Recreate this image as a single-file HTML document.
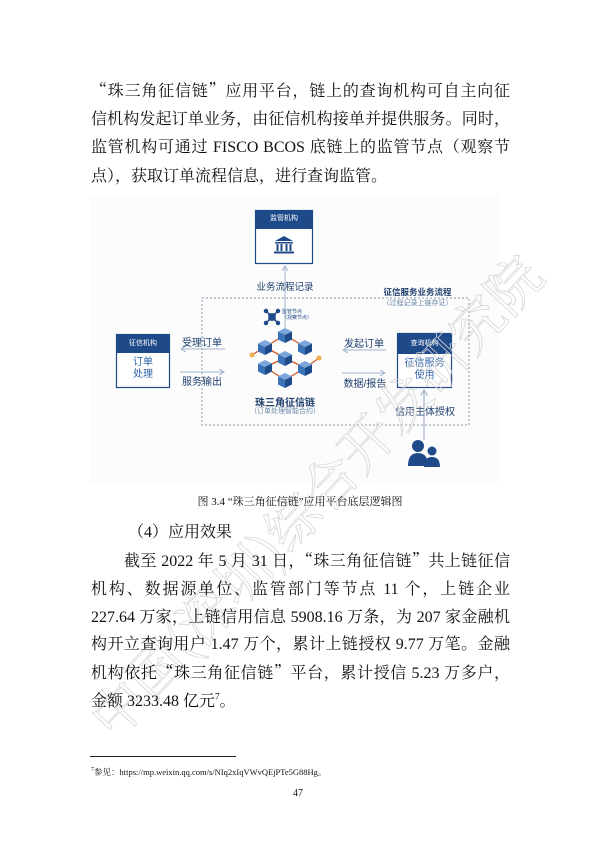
<!DOCTYPE html>
<html><head><meta charset="utf-8">
<style>
html,body{margin:0;padding:0;background:#fff;}
body{width:600px;height:848px;position:relative;overflow:hidden;font-family:"Liberation Serif","Noto Serif CJK SC","Noto Sans CJK SC",serif;color:#111;}
.l{position:absolute;left:91px;width:419px;font-size:16px;line-height:20px;text-align:justify;text-align-last:justify;white-space:nowrap;}
.q{font-family:"Noto Serif CJK SC",serif;line-height:0;}
sup{line-height:0;vertical-align:super;}
.d{position:absolute;font-family:"Liberation Sans","Noto Sans CJK SC",sans-serif;white-space:nowrap;}
.wm{position:absolute;font-family:"Noto Serif CJK SC",serif;font-size:54px;color:transparent;-webkit-text-stroke:0.8px #d6d6d6;white-space:nowrap;transform-origin:0 0;}
</style></head><body>

<div class="l" style="top:82px;"><span class="q">“</span>珠三角征信链<span class="q">”</span>应用平台，链上的查询机构可自主向征</div>
<div class="l" style="top:110px;">信机构发起订单业务，由征信机构接单并提供服务。同时，</div>
<div class="l" style="top:138px;">监管机构可通过 FISCO BCOS 底链上的监管节点（观察节</div>
<div class="l" style="top:167px;width:auto;text-align-last:auto;">点），获取订单流程信息，进行查询监管。</div>

<div style="position:absolute;left:90px;top:195px;width:410px;height:288px;background:#fcfcfc;"></div>

<svg style="position:absolute;left:0;top:0" width="600" height="848" viewBox="0 0 600 848">
 <defs>
  <marker id="ah" markerWidth="6" markerHeight="6" refX="5" refY="3" orient="auto"><path d="M0,0 L5,3 L0,6" fill="none" stroke="#9fb3cc" stroke-width="1"/></marker>
  <g id="cube">
   <polygon points="0,-7 7,-3.5 0,0 -7,-3.5" fill="#7aa6dc"/>
   <polygon points="-7,-3.5 0,0 0,8 -7,4.5" fill="#3a72b8"/>
   <polygon points="7,-3.5 0,0 0,8 7,4.5" fill="#1d4b8a"/>
  </g>
 </defs>
 <rect x="202" y="298" width="267" height="127" fill="none" stroke="#8a9bb0" stroke-width="1" stroke-dasharray="2,2"/>
 <rect x="255.5" y="210.5" width="57" height="53" fill="#fff" stroke="#1f4a8a" stroke-width="1.2"/>
 <rect x="255" y="210" width="58" height="19" fill="#1f4a8a"/>
 <g fill="#1f4a8a">
  <polygon points="284,236 275,241 293,241"/>
  <rect x="275" y="242" width="18" height="1.5"/>
  <rect x="276.5" y="244" width="2" height="7"/><rect x="280.5" y="244" width="2" height="7"/><rect x="285.5" y="244" width="2" height="7"/><rect x="289.5" y="244" width="2" height="7"/>
  <rect x="274" y="251.5" width="20" height="2"/>
 </g>
 <line x1="285" y1="330" x2="285" y2="266" stroke="#9fb3cc" stroke-width="1" marker-end="url(#ah)"/>
 <line x1="225" y1="349" x2="181" y2="349" stroke="#9fb3cc" stroke-width="1" marker-end="url(#ah)"/>
 <line x1="180" y1="372" x2="224" y2="372" stroke="#9fb3cc" stroke-width="1" marker-end="url(#ah)"/>
 <line x1="386" y1="350" x2="343" y2="350" stroke="#9fb3cc" stroke-width="1" marker-end="url(#ah)"/>
 <line x1="342" y1="373" x2="385" y2="373" stroke="#9fb3cc" stroke-width="1" marker-end="url(#ah)"/>
 <line x1="424" y1="440" x2="424" y2="390" stroke="#9fb3cc" stroke-width="1.2" marker-end="url(#ah)"/>
 <rect x="116.5" y="334.5" width="53" height="53" fill="#fff" stroke="#1f4a8a" stroke-width="1.2"/>
 <rect x="116" y="334" width="54" height="19" fill="#1f4a8a"/>
 <rect x="397.5" y="333.5" width="54" height="54" fill="#fff" stroke="#1f4a8a" stroke-width="1.2"/>
 <rect x="397" y="333" width="55" height="21" fill="#1f4a8a"/>
 <g stroke="#1f4a8a" stroke-width="1.5" fill="#1f4a8a">
  <line x1="266" y1="311" x2="278" y2="323"/><line x1="278" y1="311" x2="266" y2="323"/>
  <circle cx="266" cy="311" r="1.5"/><circle cx="278" cy="311" r="1.5"/><circle cx="266" cy="323" r="1.5"/><circle cx="278" cy="323" r="1.5"/>
  <rect x="269" y="314" width="6" height="6"/>
 </g>
 <g stroke="#d2572a" stroke-width="1.3">
  <line x1="252" y1="355" x2="265" y2="347"/>
  <line x1="265" y1="347" x2="285" y2="335"/>
  <line x1="285" y1="335" x2="305" y2="347"/>
  <line x1="265" y1="347" x2="285" y2="358"/>
  <line x1="285" y1="358" x2="305" y2="368"/>
  <line x1="265" y1="367" x2="285" y2="380"/>
  <line x1="285" y1="380" x2="305" y2="368"/>
  <line x1="305" y1="368" x2="319" y2="358"/>
  <line x1="265" y1="367" x2="285" y2="358"/>
 </g>
 <circle cx="252" cy="355" r="2.5" fill="#f0b050"/>
 <circle cx="319" cy="358" r="2.5" fill="#f0b050"/>
 <use href="#cube" x="285" y="335"/>
 <use href="#cube" x="265" y="347"/>
 <use href="#cube" x="305" y="347"/>
 <use href="#cube" x="285" y="358"/>
 <use href="#cube" x="265" y="367"/>
 <use href="#cube" x="305" y="368"/>
 <use href="#cube" x="285" y="380"/>
 <g fill="#1f4a8a">
  <circle cx="418" cy="446" r="6"/>
  <path d="M408,466 Q408,453 418,453 Q428,453 428,466 Z"/>
  <circle cx="432" cy="451" r="4.5"/>
  <path d="M424,467 Q424,457 432,457 Q440,457 440,467 Z"/>
 </g>
</svg>

<div class="d" style="left:255px;top:213px;width:58px;text-align:center;font-size:7px;color:#fff;">监管机构</div>
<div class="d" style="left:245px;top:279px;width:80px;text-align:center;font-size:9.5px;color:#1f3f6e;">业务流程记录</div>
<div class="d" style="left:370px;top:286px;width:95px;text-align:center;font-size:8.5px;color:#1f3f6e;font-weight:bold;">征信服务业务流程</div>
<div class="d" style="left:370px;top:298px;width:95px;text-align:center;font-size:7px;color:#6a85aa;">（过程记录上链存证）</div>
<div class="d" style="left:282px;top:309px;font-size:5px;color:#1f4a8a;line-height:6px;">监管节点<br>（观察节点）</div>
<div class="d" style="left:116px;top:338px;width:54px;text-align:center;font-size:7px;color:#fff;">征信机构</div>
<div class="d" style="left:116px;top:357px;width:54px;text-align:center;font-size:10px;line-height:12px;color:#2d63a8;">订单<br>处理</div>
<div class="d" style="left:397px;top:338px;width:55px;text-align:center;font-size:7px;color:#fff;">查询机构</div>
<div class="d" style="left:397px;top:358px;width:55px;text-align:center;font-size:10px;line-height:12px;color:#2d63a8;">征信服务<br>使用</div>
<div class="d" style="left:172px;top:334px;width:60px;text-align:center;font-size:10px;color:#1f3f6e;">受理订单</div>
<div class="d" style="left:172px;top:373px;width:60px;text-align:center;font-size:10px;color:#1f3f6e;">服务输出</div>
<div class="d" style="left:334px;top:335px;width:60px;text-align:center;font-size:10px;color:#1f3f6e;">发起订单</div>
<div class="d" style="left:334px;top:375px;width:62px;text-align:center;font-size:10px;color:#1f3f6e;">数据/报告</div>
<div class="d" style="left:385px;top:403px;width:80px;text-align:center;font-size:10px;color:#1f3f6e;">信用主体授权</div>
<div class="d" style="left:240px;top:394px;width:90px;text-align:center;font-size:10px;font-weight:bold;color:#1f3f6e;">珠三角征信链</div>
<div class="d" style="left:235px;top:406px;width:100px;text-align:center;font-size:7px;color:#6a85aa;">（订单处理智能合约）</div>

<div class="wm" style="left:70px;top:700px;transform:rotate(-47deg);">中国(深圳)综合开发研究院</div>

<div class="l" style="left:0;width:600px;top:495px;font-size:11px;line-height:14px;text-align:center;text-align-last:center;">图 3.4 “珠三角征信链”应用平台底层逻辑图</div>
<div class="l" style="left:128px;width:auto;top:523px;text-align-last:auto;">（4）应用效果</div>
<div class="l" style="left:124px;width:386px;top:552px;">截至 2022 年 5 月 31 日，<span class="q">“</span>珠三角征信链<span class="q">”</span>共上链征信</div>
<div class="l" style="top:580px;">机构、数据源单位、监管部门等节点 11 个，上链企业</div>
<div class="l" style="top:608px;">227.64 万家，上链信用信息 5908.16 万条，为 207 家金融机</div>
<div class="l" style="top:635px;">构开立查询用户 1.47 万个，累计上链授权 9.77 万笔。金融</div>
<div class="l" style="top:664px;">机构依托<span class="q">“</span>珠三角征信链<span class="q">”</span>平台，累计授信 5.23 万多户，</div>
<div class="l" style="top:692px;width:auto;text-align-last:auto;">金额 3233.48 亿元<sup style="font-size:9px;">7</sup>。</div>

<div style="position:absolute;left:90px;top:756px;width:146px;height:1px;background:#222;"></div>
<div class="l" style="top:767px;width:auto;text-align-last:auto;font-size:8.5px;line-height:10px;"><sup style="font-size:6px;">7</sup>参见：https://mp.weixin.qq.com/s/NIq2xIqVWvQEjPTe5G88Hg。</div>
<div class="l" style="left:293px;width:auto;top:788px;text-align-last:auto;font-size:10px;line-height:12px;">47</div>
</body></html>
